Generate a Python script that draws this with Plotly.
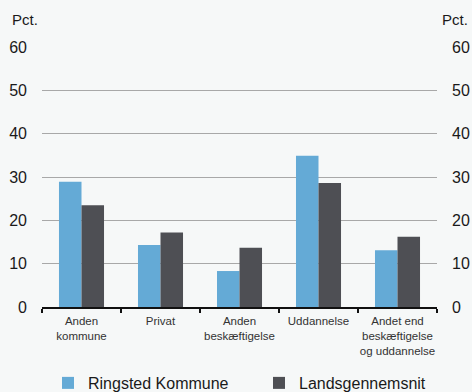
import plotly.graph_objects as go

categories = ["Anden<br>kommune", "Privat", "Anden<br>beskæftigelse", "Uddannelse",
              "Andet end<br>beskæftigelse<br>og uddannelse"]
ringsted = [28.9, 14.3, 8.3, 34.9, 13.1]
landsgennemsnit = [23.5, 17.2, 13.7, 28.6, 16.2]
y_ticks = [0, 10, 20, 30, 40, 50, 60]

FONT = "Liberation Sans, Arial, sans-serif"
BG = "#f6f8f8"

fig = go.Figure()
fig.add_trace(go.Bar(x=categories, y=ringsted, name="Ringsted Kommune",
                     marker=dict(color="#64aad6", line=dict(width=0)), legend="legend"))
fig.add_trace(go.Bar(x=categories, y=landsgennemsnit, name="Landsgennemsnit",
                     marker=dict(color="#4e4f54", line=dict(width=0)), legend="legend2"))
# invisible trace so the right-hand axis is drawn
fig.add_trace(go.Scatter(x=[categories[0]], y=[0], yaxis="y2", mode="markers",
                         marker=dict(opacity=0), showlegend=False, hoverinfo="skip"))

legend_style = dict(
    orientation="h", xref="container", yref="container", xanchor="left",
    y=0.023, yanchor="middle", font=dict(size=16, color="#1a1a1a"),
    itemwidth=30, bgcolor="rgba(0,0,0,0)",
)

fig.update_layout(
    width=472, height=392,
    margin=dict(l=42, r=35, t=47, b=85, autoexpand=False),
    paper_bgcolor=BG, plot_bgcolor=BG,
    font=dict(family=FONT, color="#1a1a1a"),
    barmode="group", bargap=0.43, bargroupgap=0,
    xaxis=dict(
        type="category", tickson="boundaries", ticks="outside", ticklen=4,
        tickwidth=2, tickcolor="#111", showline=True, linecolor="#111", linewidth=2,
        tickfont=dict(size=11.5, color="#333"), showgrid=False, tickangle=0,
        automargin=False, ticklabelstandoff=2,
    ),
    yaxis=dict(
        range=[0, 60], tickvals=y_ticks, showgrid=True, gridcolor="#a8a8a8",
        gridwidth=1, zeroline=False, showline=False, ticks="",
        tickfont=dict(size=16, color="#1a1a1a"), ticklabelstandoff=14,
        automargin=False,
    ),
    yaxis2=dict(
        range=[0, 60], tickvals=y_ticks, overlaying="y", side="right",
        showgrid=False, zeroline=False, showline=False, ticks="",
        tickfont=dict(size=16, color="#1a1a1a"), ticklabelstandoff=14,
        automargin=False,
    ),
    legend=dict(x=48 / 472, **legend_style),
    legend2=dict(x=259 / 472, **legend_style),
    showlegend=True,
)

fig.add_annotation(text="Pct.", xref="paper", yref="paper", x=-0.081, y=1.104,
                   xanchor="left", yanchor="middle", showarrow=False,
                   font=dict(size=15, color="#1a1a1a"))
fig.add_annotation(text="Pct.", xref="paper", yref="paper", x=1.083, y=1.104,
                   xanchor="right", yanchor="middle", showarrow=False,
                   font=dict(size=15, color="#1a1a1a"))

fig.write_html("out.html")
